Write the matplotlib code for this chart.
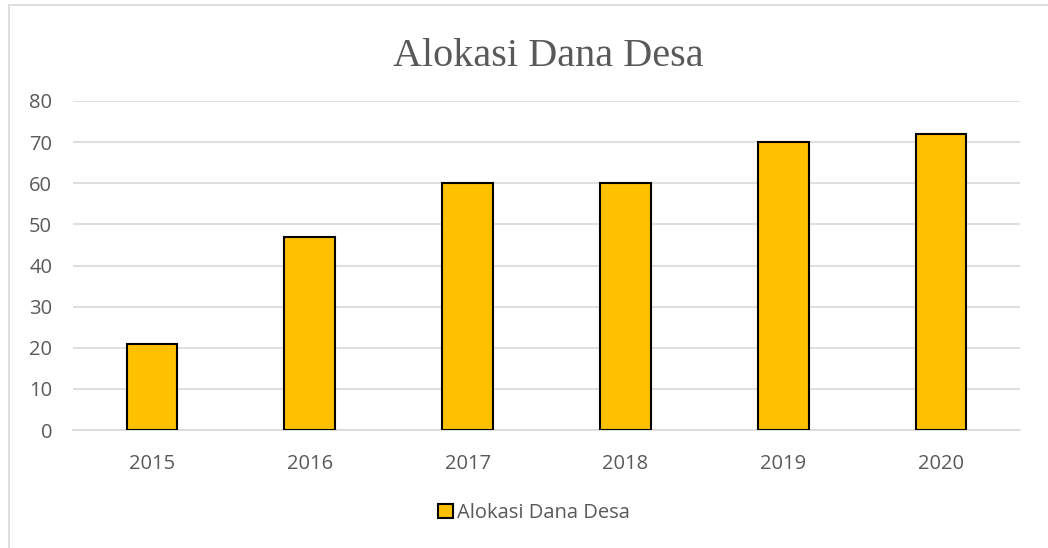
import matplotlib
matplotlib.use('Agg')
import matplotlib.pyplot as plt
from matplotlib.patches import Rectangle
import numpy as np

years = ['2015', '2016', '2017', '2018', '2019', '2020']
alokasi = [20.8, 47, 60, 60, 70, 72]
series_name = 'Alokasi Dana Desa'
yticks = [0, 10, 20, 30, 40, 50, 60, 70, 80]

text_color = '#595959'
bar_color = '#ffc000'
grid_color = '#d9d9d9'

fig = plt.figure(figsize=(10.48, 5.48), dpi=100)
ax = fig.add_axes([73/1048, 1 - 430/548, (1020 - 73)/1048, (430 - 101)/548])

# outer chart border
fig.patches.append(Rectangle((9/1048, -0.05), 1.2, 1 - 5/548 + 0.05, transform=fig.transFigure,
                             fill=False, edgecolor=grid_color, linewidth=1.2))

x = np.arange(len(years))
ax.bar(x, alokasi, width=0.32, color=bar_color, edgecolor='black', linewidth=1.5,
       label=series_name, zorder=3)

ax.set_xlim(-0.5, len(years) - 0.5)
ax.set_ylim(0, 80)
ax.set_yticks(yticks)
ax.set_xticks(x)
ax.set_xticklabels(years)
ax.yaxis.grid(True, color=grid_color, linewidth=1.2, zorder=0)
ax.set_axisbelow(True)
for s in ['top', 'right', 'left']:
    ax.spines[s].set_visible(False)
ax.spines['bottom'].set_color(grid_color)
ax.spines['bottom'].set_linewidth(1.2)
ax.tick_params(length=0, labelsize=14.5, colors=text_color, pad=17)
ax.tick_params(axis='y', pad=15)
for lbl in ax.get_xticklabels() + ax.get_yticklabels():
    lbl.set_fontfamily('Open Sans')

fig.text(548/1048, 1 - 56/548, 'Alokasi Dana Desa', ha='center', va='center',
         fontsize=29, color=text_color, family='Liberation Serif')

leg = fig.legend(loc='center', bbox_to_anchor=(534/1048, 1 - 513/548), frameon=False,
                 prop={'family': 'Open Sans', 'size': 14.5}, handlelength=0.75, handleheight=0.75,
                 handletextpad=0.2)
for t in leg.get_texts():
    t.set_color(text_color)

fig.savefig('out.png', dpi=100)
